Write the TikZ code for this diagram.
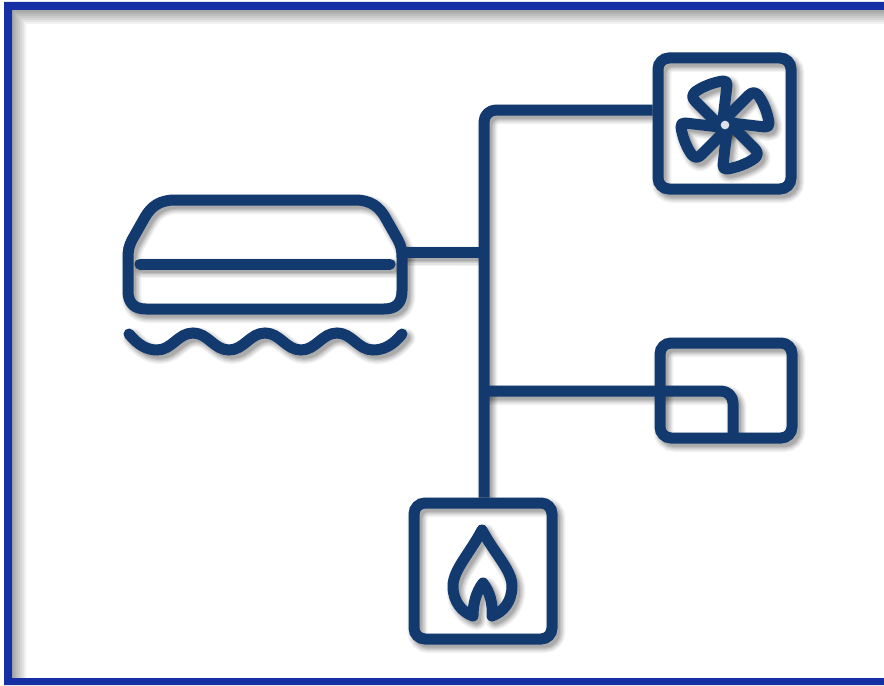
\documentclass[tikz,border=0pt]{standalone}
\definecolor{navy}{HTML}{123A6E}
\definecolor{frameblue}{HTML}{1530A4}
\definecolor{hubfill}{HTML}{DDE2EA}
\newcommand{\wholeicon}[1]{%
  \tikzset{ink/.style={#1},
    boxshape/.style={ink,draw,rectangle,rounded corners=8.25pt,inner sep=0pt},
    pipe/.style={ink,rounded corners=9pt,line join=round}}
  % boxes
  \node[boxshape,minimum width=99.75pt,minimum height=98.25pt] (fan) at (724.5,123.5) {};
  \node[boxshape,minimum width=99pt,minimum height=71.25pt] (panel) at (726,390.5) {};
  \node[boxshape,minimum width=103.5pt,minimum height=102pt] (fire) at (483,571) {};
  % air conditioner body
  \draw[ink,line join=round] (175,200) -- (355,200)
     .. controls (371,200) and (379,207) .. (385,217)
     -- (398,240) .. controls (401,246) and (402,250) .. (402,258)
     -- (402,291) .. controls (402,303) and (396,309) .. (384,309)
     -- (146,309) .. controls (134,309) and (128,303) .. (128,291)
     -- (128,258) .. controls (128,250) and (129,246) .. (132,240)
     -- (145,217) .. controls (151,207) and (159,200) .. (175,200) -- cycle;
  \coordinate (acport) at (402,252);
  \coordinate (barL) at (140,264);
  \coordinate (barR) at (390,264);
  \draw[ink,line cap=round] (barL) -- (barR);
  % wave
  \draw[ink,line cap=round] (129,334)
     .. controls (138,345) and (147,350) .. (157,350)
     .. controls (172,350) and (178,333) .. (193,333)
     .. controls (208,333) and (214,350) .. (229,350)
     .. controls (244,350) and (250,333) .. (265,333)
     .. controls (280,333) and (286,350) .. (301,350)
     .. controls (316,350) and (322,333) .. (337,333)
     .. controls (352,333) and (358,350) .. (373,350)
     .. controls (384,350) and (393,345) .. (402,334);
  % pipes
  \coordinate (trunkTop) at (484,110);
  \coordinate (trunkAC) at (484,252);
  \coordinate (trunkPanel) at (484,391);
  \coordinate (panelBend) at (733,391);
  \coordinate (panelFoot) at (733,434);
  \draw[ink] (acport) -- (trunkAC);
  \draw[pipe] (fan.west |- trunkTop) -- (trunkTop) -- (fire.north -| trunkTop);
  \draw[pipe] (trunkPanel) -- (panelBend) -- (panelFoot);
  % fan
  \coordinate (hub) at (725,125);
  \foreach \a in {0,90,180,270}{
    \draw[ink,line join=round,shift={(hub)},rotate=\a]
      (-3,3) -- (-30,-24) .. controls (-33,-27) and (-33,-30) .. (-30,-33)
      .. controls (-22,-39) and (-10,-43) .. (-2,-44)
      .. controls (1,-44) and (2,-43) .. (2,-40) -- cycle;
  }
  % flame
  \draw[ink,line join=round,line cap=round] (482,530)
     .. controls (494,553) and (512,570) .. (512,586)
     .. controls (512,602) and (503,612) .. (492,616)
     .. controls (493,604) and (490,592) .. (483,583)
     .. controls (476,592) and (473,604) .. (473,616)
     .. controls (462,612) and (453,602) .. (453,586)
     .. controls (453,570) and (470,553) .. (482,530) -- cycle;
}
\begin{document}
\begin{tikzpicture}[x=0.75pt,y=-0.75pt]
  \useasboundingbox (0,0) rectangle (884,685);
  \fill[white] (0,0) rectangle (884,685);
  % inner shadow of the frame
  \foreach \i in {1,...,7}{
    \fill[black,opacity=0.055] (12,10) -- (884,10) -- (884,10+2*\i) -- (12+2*\i,10+2*\i) -- (12+2*\i,678) -- (12,678) -- cycle;
  }
  % frame
  \fill[frameblue] (4,2) -- (884,2) -- (884,10) -- (12,10) -- (12,678) -- (884,678) -- (884,685) -- (4,685) -- cycle;
  % soft drop shadow
  \foreach \w/\o [count=\n] in {15pt/0.05,13pt/0.06,11pt/0.07,9pt/0.09,7pt/0.10}{
    \begin{scope}[xshift=2.6pt,yshift=-3pt,name prefix=s\n-]
      \wholeicon{draw=black,opacity=\o,line width=\w}
    \end{scope}
  }
  \wholeicon{draw=navy,line width=8.25pt}
  % fan hub
  \fill[navy] (hub) circle (9.5);
  \node[circle,fill=hubfill,inner sep=0pt,minimum size=6.5pt] (hubdot) at (hub) {};
\end{tikzpicture}
\end{document}
